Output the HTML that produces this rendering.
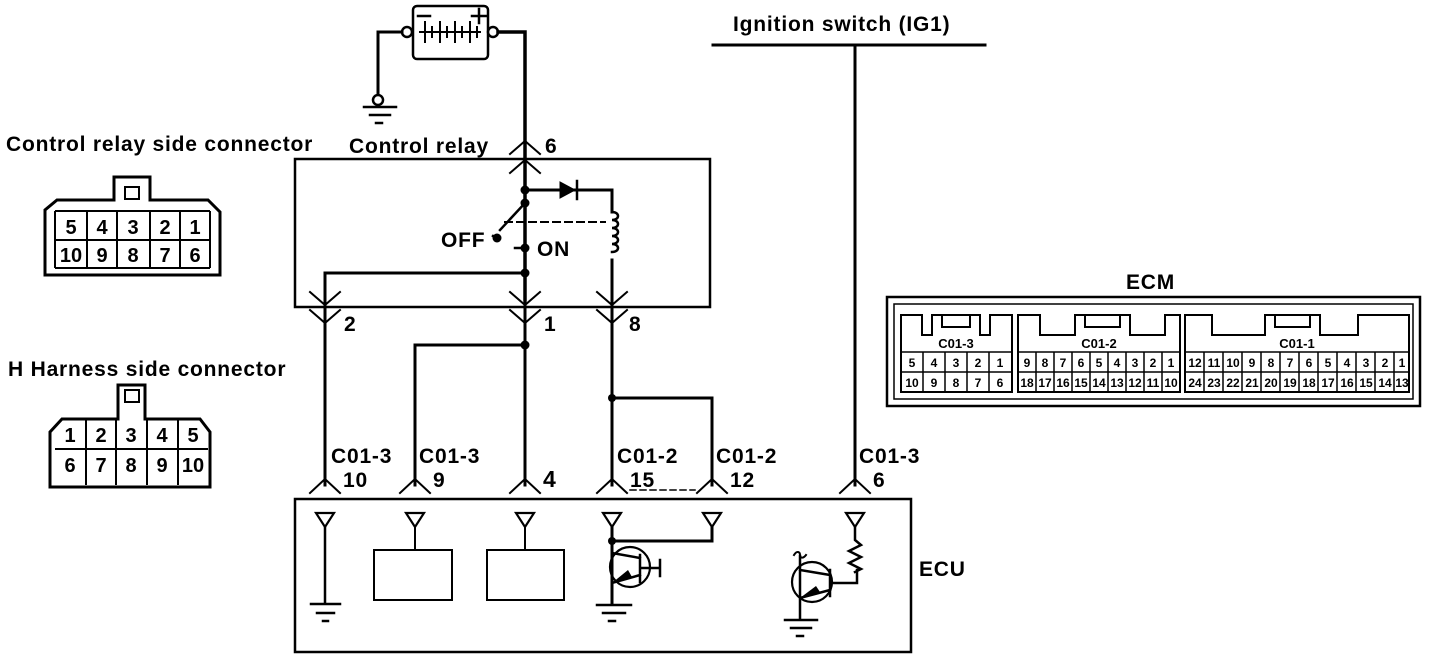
<!DOCTYPE html>
<html><head><meta charset="utf-8"><style>
html,body{margin:0;padding:0;background:#fff;}
svg{display:block;font-family:"Liberation Sans",Arial,sans-serif;}
</style></head><body>
<svg width="1440" height="660" viewBox="0 0 1440 660" xmlns="http://www.w3.org/2000/svg">
<g stroke="#000" fill="none" stroke-width="3" stroke-linecap="square">
<rect x="413" y="6" width="75" height="53" rx="4" stroke-width="2.5"/>
<circle cx="407" cy="32" r="5" fill="#fff" stroke-width="2.5"/>
<circle cx="493" cy="32" r="5" fill="#fff" stroke-width="2.5"/>
<path d="M420 32H480 M425 22V42 M432 27V37 M440 22V42 M447 27V37 M455 22V42 M462 27V37 M470 22V42 M477 27V37" stroke-width="2"/>
<path d="M418 16h12 M472 16h14 M479 9v14" stroke-width="2.5"/>
<path d="M402 32H378V96"/>
<circle cx="378" cy="100" r="5" fill="#fff" stroke-width="2.5"/>
<path d="M364 107H396 M370 115H390 M376 123H382" stroke-width="2.5"/>
<path d="M498 32H525V300" stroke-width="3.5"/>
<path d="M510 154L525 141L540 154 M510 173L525 160L540 173" stroke-width="2"/>
<rect x="295" y="159" width="415" height="148" stroke-width="2.5"/>
<path d="M525 190H612V212"/>
<polygon points="560,182 560,198 575,190" fill="#000" stroke-width="1"/>
<path d="M577 181V199" stroke-width="2.5"/>
<path d="M612 212c8 0 8 8 0 8c8 0 8 8 0 8c8 0 8 8 0 8c8 0 8 8 0 8c8 0 8 8 0 8" stroke-width="2.5"/>
<path d="M612 260V485"/>
<path d="M525 203L500 230" stroke-width="2.5"/>
<path d="M505 222H605" stroke-dasharray="7,5" stroke-width="2"/>
<path d="M493 236L498 240M515 248H525" stroke-width="2.5"/>
<path d="M525 248V485"/>
<path d="M325 273H525"/>
<path d="M325 273V485"/>
<path d="M310 292L325 305L340 292 M310 310L325 323L340 310 M510 292L525 305L540 292 M510 310L525 323L540 310 M597 292L612 305L627 292 M597 310L612 323L627 310" stroke-width="2"/>
<path d="M525 345H415V485"/>
<path d="M612 398H712V485"/>
<path d="M855 45V485"/>
<path d="M713 45H985"/>
<path d="M310 493L325 479L340 493 M400 493L415 479L430 493 M510 493L525 479L540 493 M597 493L612 479L627 493 M697 493L712 479L727 493 M840 493L855 479L870 493" stroke-width="2"/>
<path d="M630 490H695" stroke-dasharray="6,4" stroke-width="1.5"/>
<rect x="295" y="499" width="616" height="153" stroke-width="2.5"/>
<g stroke-width="2.2">
<path d="M316 513H334L325 527Z M406 513H424L415 527Z M516 513H534L525 527Z M603 513H621L612 527Z M703 513H721L712 527Z M846 513H864L855 527Z"/>
</g>
<path d="M325 527V603 M311 604H340 M317 613H334 M323 621H328" stroke-width="2.5"/>
<path d="M415 527V550 M525 527V550" stroke-width="2"/>
<rect x="374" y="550" width="78" height="50" stroke-width="2"/>
<rect x="487" y="550" width="77" height="50" stroke-width="2"/>
<path d="M612 527V603 M612 541H712V527"/>
<circle cx="630" cy="567" r="20" stroke-width="2.2"/>
<path d="M612 553L640 558 M612 583L640 575 M640 555V582 M640 568H660 M660 560V576" stroke-width="2.5"/>
<path d="M597 605H631 M603 613H625 M609 621H615" stroke-width="2.5"/>
<circle cx="812" cy="582" r="20" stroke-width="2.2"/>
<path d="M800 556V618 M800 570L830 575 M800 598L830 590 M830 570V596 M830 583H857V570 M855 527V540 L861 545L849 551L861 557L849 563L861 569L855 572" stroke-width="2.5"/>
<path d="M794 555c3-5 6-3 6 0c0 3 3 4 6 0" stroke-width="2"/>
<path d="M785 620H817 M791 628H811 M797 636H803" stroke-width="2.5"/>
</g>
<g fill="#000">
<circle cx="525" cy="190" r="4.5"/><circle cx="525" cy="203" r="4.5"/><circle cx="497" cy="238" r="4.5"/>
<circle cx="525" cy="248" r="4.5"/><circle cx="525" cy="273" r="4.5"/><circle cx="525" cy="345" r="4.5"/>
<circle cx="612" cy="398" r="4"/><circle cx="612" cy="541" r="4"/>
<polygon points="612,583 628,570 632,577"/><polygon points="800,598 816,586 820,592"/>
</g>
<g font-size="21" font-weight="bold" fill="#000" letter-spacing="0.8">
<text x="733" y="31">Ignition switch (IG1)</text>
<text x="349" y="153">Control relay</text>
<text x="545" y="153">6</text>
<text x="441" y="247">OFF</text>
<text x="537" y="256">ON</text>
<text x="344" y="331">2</text>
<text x="544" y="331">1</text>
<text x="629" y="331">8</text>
<text x="6" y="151">Control relay side connector</text>
<text x="8" y="376">H Harness side connector</text>
<text x="331" y="463">C01-3</text><text x="343" y="487">10</text>
<text x="419" y="463">C01-3</text><text x="433" y="487">9</text>
<text x="543" y="487" font-size="23">4</text>
<text x="617" y="463">C01-2</text><text x="630" y="487">15</text>
<text x="716" y="463">C01-2</text><text x="730" y="487">12</text>
<text x="859" y="463">C01-3</text><text x="873" y="487">6</text>
<text x="919" y="576">ECU</text>
<text x="1126" y="289">ECM</text>
</g>
<g stroke="#000" fill="none" stroke-width="3">
<path d="M45 275V210L57 200H114V177H150V200H208L220 212V275Z"/>
<rect x="125" y="187" width="14" height="12" stroke-width="2"/>
<path d="M55 211H210 M55 240H210 M55 268H210 M87 211V268 M117 211V268 M150 211V268 M180 211V268 M55 211V268 M210 211V268" stroke-width="2"/>
<path d="M50 487V432L62 419H118V385H145V419H200L210 432V487Z"/>
<rect x="125" y="390" width="14" height="12" stroke-width="2"/>
<path d="M55 449H208 M86 419V485 M116 419V485 M147 419V485 M178 419V485" stroke-width="2"/>
</g>
<g font-size="20" font-weight="bold" fill="#000" text-anchor="middle">
<text x="71" y="234">5</text><text x="102" y="234">4</text><text x="133" y="234">3</text><text x="165" y="234">2</text><text x="195" y="234">1</text>
<text x="71" y="262">10</text><text x="102" y="262">9</text><text x="133" y="262">8</text><text x="165" y="262">7</text><text x="195" y="262">6</text>
<text x="70" y="442">1</text><text x="101" y="442">2</text><text x="131" y="442">3</text><text x="162" y="442">4</text><text x="193" y="442">5</text>
<text x="70" y="472">6</text><text x="101" y="472">7</text><text x="131" y="472">8</text><text x="162" y="472">9</text><text x="193" y="472">10</text>
</g>
<g stroke="#000" fill="none" stroke-width="2.5">
<rect x="887" y="297" width="533" height="109"/>
<rect x="894" y="304" width="519" height="95" stroke-width="1.5"/>
<path d="M901 392V315H922V335H932V315H980V335H990V315H1012V392Z M1018 392V315H1040V335H1075V315H1130V335H1165V315H1180V392Z M1185 392V315H1212V335H1265V315H1320V335H1358V315H1409V392Z" stroke-width="2"/>
<path d="M942 316V327H970V316 M1085 316V327H1120V316 M1275 316V327H1310V316" stroke-width="2"/>
<path d="M901 352H1012M901 372H1012 M1018 352H1180M1018 372H1180 M1185 352H1409M1185 372H1409" stroke-width="1.5"/>
<path d="M923 352V392M945 352V392M967 352V392M989 352V392 M1036 352V392M1054 352V392M1072 352V392M1090 352V392M1108 352V392M1126 352V392M1144 352V392M1162 352V392" stroke-width="1.5"/>
<path d="M1204 352V392M1223 352V392M1242 352V392M1261 352V392M1280 352V392M1299 352V392M1318 352V392M1337 352V392M1356 352V392M1375 352V392M1394 352V392" stroke-width="1.5"/>
</g>
<g font-size="12" font-weight="bold" fill="#000" text-anchor="middle">
<text x="956" y="348" font-size="13">C01-3</text><text x="1099" y="348" font-size="13">C01-2</text><text x="1297" y="348" font-size="13">C01-1</text>
<text x="912" y="367">5</text><text x="934" y="367">4</text><text x="956" y="367">3</text><text x="978" y="367">2</text><text x="1000" y="367">1</text>
<text x="912" y="387">10</text><text x="934" y="387">9</text><text x="956" y="387">8</text><text x="978" y="387">7</text><text x="1000" y="387">6</text>
<text x="1027" y="367">9</text><text x="1045" y="367">8</text><text x="1063" y="367">7</text><text x="1081" y="367">6</text><text x="1099" y="367">5</text><text x="1117" y="367">4</text><text x="1135" y="367">3</text><text x="1153" y="367">2</text><text x="1171" y="367">1</text>
<text x="1027" y="387">18</text><text x="1045" y="387">17</text><text x="1063" y="387">16</text><text x="1081" y="387">15</text><text x="1099" y="387">14</text><text x="1117" y="387">13</text><text x="1135" y="387">12</text><text x="1153" y="387">11</text><text x="1171" y="387">10</text>
<text x="1195" y="367">12</text><text x="1214" y="367">11</text><text x="1233" y="367">10</text><text x="1252" y="367">9</text><text x="1271" y="367">8</text><text x="1290" y="367">7</text><text x="1309" y="367">6</text><text x="1328" y="367">5</text><text x="1347" y="367">4</text><text x="1366" y="367">3</text><text x="1385" y="367">2</text><text x="1402" y="367">1</text>
<text x="1195" y="387">24</text><text x="1214" y="387">23</text><text x="1233" y="387">22</text><text x="1252" y="387">21</text><text x="1271" y="387">20</text><text x="1290" y="387">19</text><text x="1309" y="387">18</text><text x="1328" y="387">17</text><text x="1347" y="387">16</text><text x="1366" y="387">15</text><text x="1385" y="387">14</text><text x="1402" y="387">13</text>
</g>
</svg>
</body></html>
